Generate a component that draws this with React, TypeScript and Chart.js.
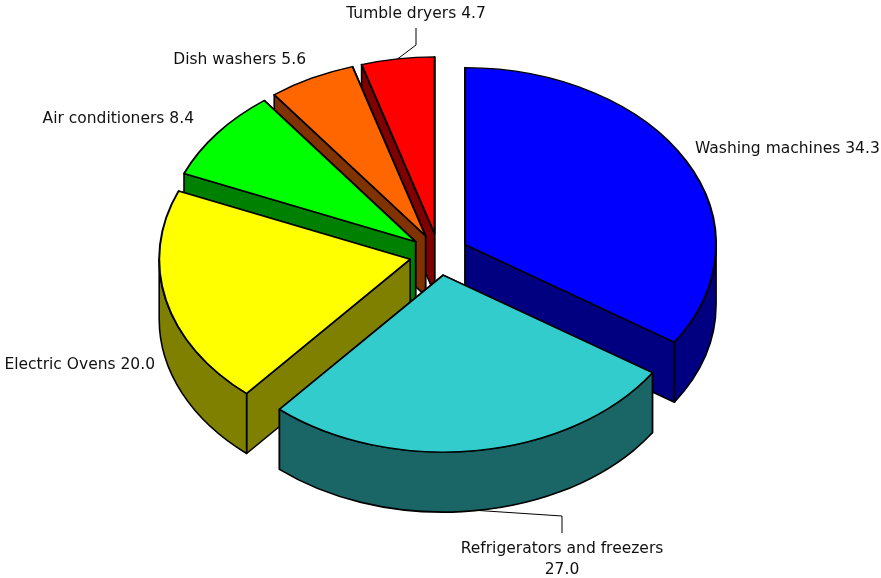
import React, { useEffect, useRef } from "react";
import { Chart, registerables } from "chart.js";

Chart.register(...registerables);

const categories = ["Washing machines", "Refrigerators and freezers", "Electric Ovens", "Air conditioners", "Dish washers", "Tumble dryers"];
const shares = [34.3, 27.0, 20.0, 8.4, 5.6, 4.7];
const topColors = ["#0000FF", "#33CCCC", "#FFFF00", "#00FF00", "#FF6600", "#FF0000"];
const wallColors = ["#000080", "#1A6666", "#808000", "#008000", "#803300", "#800000"];

const W = 881;
const H = 578;
const SQUASH = 0.705;
const DEPTH = 60;
const EXPLODE = 29.6;
const RADIUS = 251;
const CENTER_X = 439;
const CENTER_Y = 254.5;
const FONT = "15.5px 'DejaVu Sans', Verdana, sans-serif";

type Lab = { x: number; y: number; align: CanvasTextAlign; wrap?: boolean; elbow?: [number, number]; drop?: number };
const labelLayout: Lab[] = [
  { x: 695, y: 149, align: "left" },
  { x: 562, y: 549, align: "center", wrap: true, elbow: [562, 516], drop: 533 },
  { x: 155, y: 365, align: "right" },
  { x: 194, y: 119, align: "right" },
  { x: 306, y: 60, align: "right" },
  { x: 416, y: 14, align: "center", elbow: [416, 45], drop: 28 },
];

const pie3d = {
  id: "pie3d",
  beforeDatasetsDraw(chart: any) {
    const ctx: CanvasRenderingContext2D = chart.ctx;
    const arcs: any[] = chart.getDatasetMeta(0).data;
    const geo = arcs.map((a, i) => {
      const mid = (a.startAngle + a.endAngle) / 2;
      return {
        i, a, mid,
        ox: a.x + Math.cos(mid) * EXPLODE,
        oy: a.y + Math.sin(mid) * EXPLODE * SQUASH,
        r: a.outerRadius,
      };
    });
    ctx.save();
    ctx.lineWidth = 1.6;
    ctx.strokeStyle = "#000";
    ctx.lineJoin = "round";
    // walls, far slices first
    [...geo].sort((p, q) => Math.sin(p.mid) - Math.sin(q.mid)).forEach((g) => {
      ctx.fillStyle = wallColors[g.i];
      const corners = [g.a.startAngle, g.a.endAngle]
        .map((t: number) => ({ x: g.ox + g.r * Math.cos(t), y: g.oy + g.r * SQUASH * Math.sin(t) }))
        .sort((p, q) => p.y - q.y);
      corners.forEach((c) => {
        ctx.beginPath();
        ctx.moveTo(g.ox, g.oy);
        ctx.lineTo(c.x, c.y);
        ctx.lineTo(c.x, c.y + DEPTH);
        ctx.lineTo(g.ox, g.oy + DEPTH);
        ctx.closePath();
        ctx.fill();
        ctx.stroke();
      });
      const from = Math.max(g.a.startAngle, 0);
      const to = Math.min(g.a.endAngle, Math.PI);
      if (to > from) {
        ctx.beginPath();
        ctx.ellipse(g.ox, g.oy, g.r, g.r * SQUASH, 0, from, to);
        ctx.ellipse(g.ox, g.oy + DEPTH, g.r, g.r * SQUASH, 0, to, from, true);
        ctx.closePath();
        ctx.fill();
        ctx.stroke();
      }
    });
    // tops: the library's own arc elements, squashed and pulled out
    geo.forEach((g) => {
      ctx.save();
      ctx.translate(g.ox, g.oy);
      ctx.scale(1, SQUASH);
      ctx.translate(-g.a.x, -g.a.y);
      g.a.draw(ctx);
      ctx.restore();
    });
    ctx.restore();
    return false;
  },
  afterDraw(chart: any) {
    const ctx: CanvasRenderingContext2D = chart.ctx;
    const arcs: any[] = chart.getDatasetMeta(0).data;
    ctx.save();
    ctx.font = FONT;
    ctx.fillStyle = "#111";
    ctx.textBaseline = "middle";
    ctx.strokeStyle = "#000";
    ctx.lineWidth = 1;
    categories.forEach((name, i) => {
      const lab = labelLayout[i];
      const val = shares[i].toFixed(1);
      ctx.textAlign = lab.align;
      if (lab.wrap) {
        ctx.fillText(name, lab.x, lab.y);
        ctx.fillText(val, lab.x, lab.y + 21);
      } else {
        ctx.fillText(`${name} ${val}`, lab.x, lab.y);
      }
      if (lab.elbow) {
        const a = arcs[i];
        const mid = (a.startAngle + a.endAngle) / 2;
        const sy = Math.sin(mid);
        const px = a.x + Math.cos(mid) * (EXPLODE + a.outerRadius);
        const py = a.y + sy * (EXPLODE + a.outerRadius) * SQUASH + (sy > 0 ? DEPTH : 0);
        ctx.beginPath();
        ctx.moveTo(px, py);
        ctx.lineTo(lab.elbow[0], lab.elbow[1]);
        ctx.lineTo(lab.elbow[0], lab.drop as number);
        ctx.stroke();
      }
    });
    ctx.restore();
  },
};

export default function App() {
  const ref = useRef<HTMLCanvasElement>(null);
  useEffect(() => {
    const chart = new Chart(ref.current as HTMLCanvasElement, {
      type: "pie",
      data: {
        labels: categories,
        datasets: [{
          data: shares,
          backgroundColor: topColors,
          borderColor: "#000",
          borderWidth: 2,
          borderJoinStyle: "round",
          radius: RADIUS,
        } as any],
      },
      options: {
        responsive: false,
        animation: false,
        events: [],
        layout: { padding: { bottom: 2 * (H / 2 - CENTER_Y), right: 2 * (W / 2 - CENTER_X) } },
        plugins: { legend: { display: false }, tooltip: { enabled: false } },
      },
      plugins: [pie3d as any],
    });
    return () => chart.destroy();
  }, []);
  return (
    <div style={{ position: "fixed", left: 0, top: 0, width: W, height: H, background: "#fff" }}>
      <canvas ref={ref} width={W} height={H} style={{ display: "block" }} />
    </div>
  );
}
